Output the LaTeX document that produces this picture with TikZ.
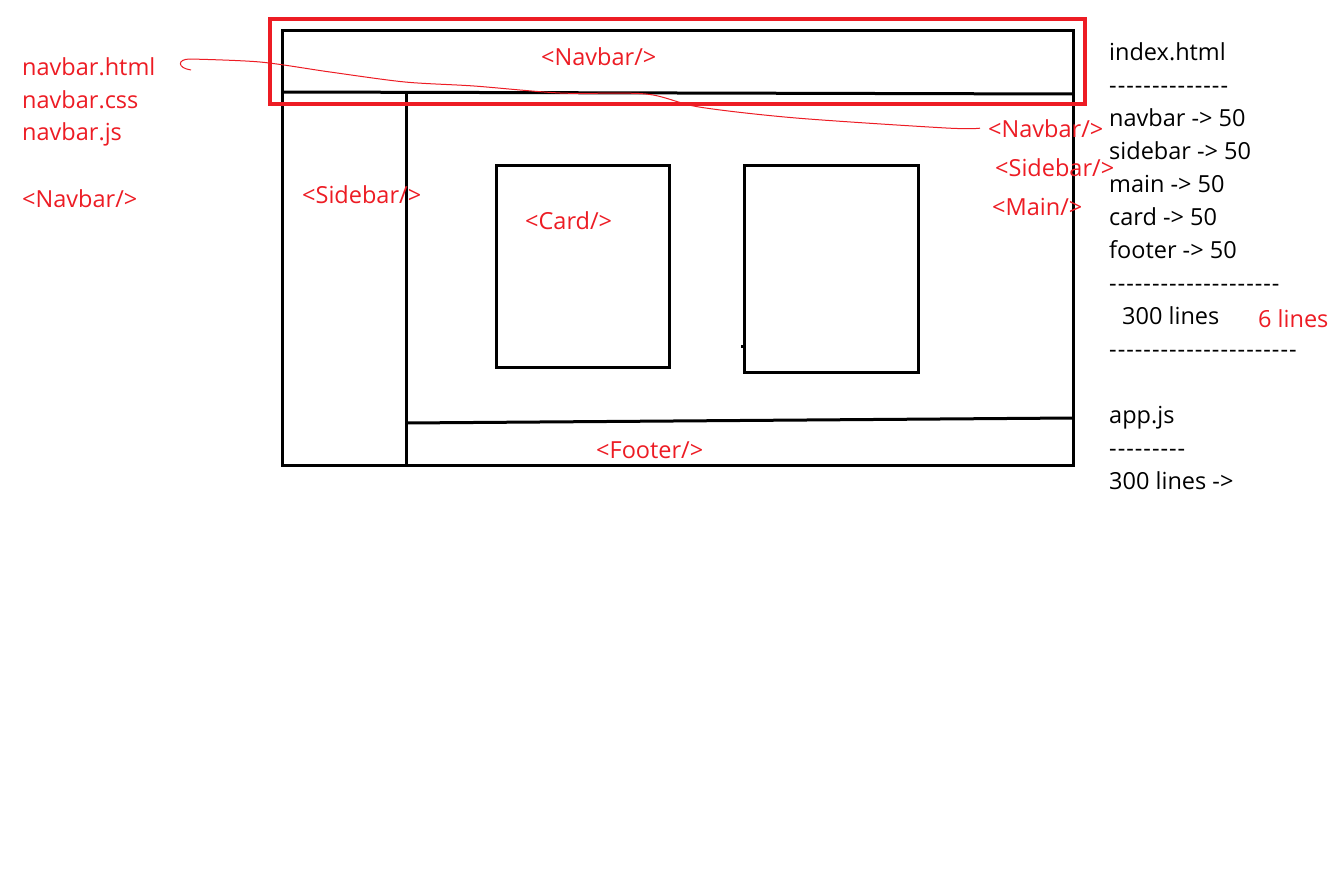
\documentclass[tikz,border=0pt]{standalone}
\usepackage{fontspec}
\setmainfont{Open Sans}
\usepackage{tikz}
\definecolor{paintred}{RGB}{237,28,36}
% hyphens one by one, so that -- does not turn into a dash
\newcommand\hyphens[1]{\foreach \k in {1,...,#1}{-\kern1pt}}

\begin{document}
\begin{tikzpicture}
  [x=1pt,y=-1pt,
   every node/.style={inner sep=0pt,anchor=base west,font=\fontsize{23.5}{28}\selectfont},
   redtxt/.style={text=paintred},
   frame/.style={line width=3pt}]
  \useasboundingbox (0,0) rectangle (1334,878);
  \fill [white] (0,0) rectangle (1334,878);

  % the page sketch
  \draw [frame] (282,30) rectangle (1073,465);
  \draw [frame] (282,92) -- (1073,94);
  \draw [frame] (406,91) -- (406,465);
  \draw [frame] (406,423) -- (1073,418);
  \draw [frame] (496,165) rectangle (669,367);
  \draw [frame] (744,165) rectangle (918,372);
  \draw [frame] (741,346) -- (744,346);
  \draw [line width=3.5pt,paintred] (270,19) rectangle (1085,104);

  % red labels
  \foreach \name/\txt/\y in {html/navbar.html/75,css/navbar.css/108,js/navbar.js/140}
    \node [redtxt] (file\name) at (22,\y) {\txt};
  \node [redtxt] (navL) at (22,207) {<Navbar/>};
  \node [redtxt] (navTop) at (541,65) {<Navbar/>};
  \node [redtxt] (sideIn) at (302,203) {<Sidebar/>};
  \node [redtxt] (card) at (525,229) {<Card/>};
  \node [redtxt] (footer) at (596,458) {<Footer/>};
  \node [redtxt] (navR) at (988,137) {<Navbar/>};
  \node [redtxt] (sideR) at (995,176) {<Sidebar/>};
  \node [redtxt] (mainR) at (992,215) {<Main/>};
  \node [redtxt] (six) at (1258,327) {6 lines};

  % black notes
  \foreach \i/\txt/\y in {1/index.html/60,3/navbar -> 50/126,4/sidebar -> 50/159,
                          5/main -> 50/192,6/card -> 50/225,7/footer -> 50/258,
                          11/app.js/423,13/300 lines ->/489}
    \node (note\i) at (1109,\y) {\txt};
  \node (note9) at (1122,324) {300 lines};
  \foreach \i/\n/\y in {2/14/93,8/20/291,10/22/357,12/9/456}
    \node (note\i) at (1109,\y) {\hyphens{\n}};

  % freehand link
  \coordinate (hook) at (190,59);
  \draw [paintred,line width=1pt] (hook) .. controls (177,59) and (177,68) .. (191,70);
  \draw [paintred,line width=1pt] plot [smooth,tension=0.5] coordinates
    {(hook) (260,62) (330,72) (405,82) (474,86) (560,93) (646,94) (699,107)
     (796,118) (946,128) ([xshift=-8pt]navR.west)};
\end{tikzpicture}
\end{document}
